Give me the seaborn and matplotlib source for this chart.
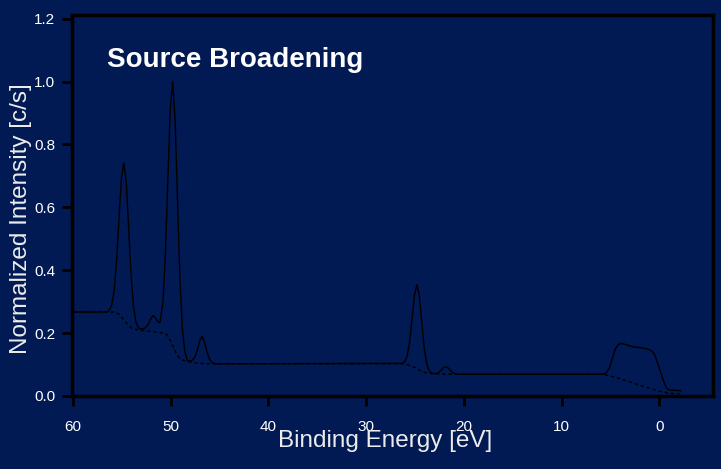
import pandas as pd
import matplotlib
matplotlib.use("Agg")
import matplotlib.pyplot as plt
from matplotlib.ticker import FormatStrFormatter
import seaborn as sns

# spectrum (solid line)
energy = [60.0, 56.5, 56.3, 56.05, 55.8, 55.55, 55.3, 55.05, 54.8, 54.55, 54.3,
          54.05, 53.8, 53.55, 53.3, 53.0, 52.6, 52.3, 52.05, 51.8, 51.55, 51.3,
          51.1, 50.8, 50.55, 50.3, 50.05, 49.8, 49.55, 49.3, 49.05, 48.8, 48.55,
          48.3, 48.05, 47.8, 47.55, 47.3, 47.05, 46.8, 46.55, 46.3, 46.05, 45.8,
          45.55, 45.3, 26.3, 26.05, 25.8, 25.55, 25.3, 25.05, 24.8, 24.55, 24.3,
          24.05, 23.8, 23.55, 23.3, 22.9, 22.6, 22.35, 22.1, 21.85, 21.6, 21.35,
          21.1, 20.85, 20.6, 5.7, 5.4, 5.1, 4.8, 4.5, 4.2, 3.95, 3.6, 3.2, 2.8,
          2.4, 2.0, 1.6, 1.2, 0.9, 0.6, 0.4, 0.0, -0.4, -0.75, -1.1, -1.6, -2.2]
intensity = [0.267, 0.267, 0.272, 0.288, 0.332, 0.424, 0.56, 0.69, 0.741, 0.679,
             0.531, 0.38, 0.281, 0.234, 0.216, 0.213, 0.216, 0.228, 0.245, 0.256,
             0.247, 0.236, 0.233, 0.296, 0.447, 0.68, 0.911, 1.0, 0.875, 0.616,
             0.366, 0.21, 0.14, 0.113, 0.111, 0.113, 0.122, 0.143, 0.174, 0.19,
             0.173, 0.142, 0.118, 0.107, 0.104, 0.102, 0.104, 0.109, 0.128, 0.173,
             0.247, 0.323, 0.354, 0.315, 0.231, 0.15, 0.101, 0.08, 0.073, 0.071,
             0.074, 0.081, 0.09, 0.093, 0.089, 0.08, 0.073, 0.07, 0.069, 0.069,
             0.075, 0.09, 0.12, 0.15, 0.163, 0.167, 0.165, 0.161, 0.157, 0.155,
             0.154, 0.152, 0.149, 0.145, 0.138, 0.125, 0.088, 0.05, 0.024, 0.018,
             0.018, 0.017]

# background (dashed line)
bg_energy = [60.0, 55.7, 55.3, 55.0, 54.6, 54.3, 54.0, 53.5, 52.5, 51.5, 50.8,
             50.4, 50.1, 49.8, 49.5, 49.2, 48.9, 48.5, 47.5, 46.5, 45.7, 26.2,
             25.8, 25.4, 25.0, 24.6, 24.2, 23.8, 23.3, 22.3, 21.4, 5.7, 4.0, 2.0,
             0.0, -1.2, -2.2]
bg_intensity = [0.267, 0.267, 0.26, 0.25, 0.235, 0.224, 0.215, 0.211, 0.207,
                0.204, 0.2, 0.195, 0.18, 0.16, 0.14, 0.124, 0.116, 0.111, 0.105,
                0.103, 0.102, 0.102, 0.1, 0.096, 0.09, 0.083, 0.077, 0.073, 0.071,
                0.07, 0.069, 0.069, 0.055, 0.034, 0.015, 0.008, 0.007]

x_ticks = [60, 50, 40, 30, 20, 10, 0]
y_ticks = [0.0, 0.2, 0.4, 0.6, 0.8, 1.0, 1.2]

navy = "#011a54"
sns.set_style("ticks", {"axes.facecolor": navy, "figure.facecolor": navy,
                        "axes.edgecolor": "black"})
plt.rcParams["font.family"] = ["Liberation Sans", "DejaVu Sans"]

spec = pd.DataFrame({"energy": energy, "intensity": intensity})
bg = pd.DataFrame({"energy": bg_energy, "intensity": bg_intensity})

fig = plt.figure(figsize=(7.21, 4.69), dpi=100)
ax = fig.add_axes([0.0999, 0.1557, 0.8891, 0.8113])

sns.lineplot(data=spec, x="energy", y="intensity", estimator=None, sort=False,
             color="black", linewidth=1.0, ax=ax)
sns.lineplot(data=bg, x="energy", y="intensity", estimator=None, sort=False,
             color="black", linewidth=1.0, linestyle=(0, (2.5, 2)), ax=ax)

ax.set_xlim(60.1, -5.5)
ax.set_ylim(0, 1.21)
ax.set_xticks(x_ticks)
ax.set_yticks(y_ticks)
ax.yaxis.set_major_formatter(FormatStrFormatter("%.1f"))

for s in ax.spines.values():
    s.set_linewidth(2.5)
    s.set_color("black")
ax.tick_params(direction="out", length=7, width=2, color="black",
               labelcolor="white", labelsize=11, pad=5)
ax.tick_params(axis="x", pad=10)

ax.set_xlabel("Binding Energy [eV]", fontsize=17.5, color="#ececec", va="center")
ax.set_ylabel("Normalized Intensity [c/s]", fontsize=17.5, color="#ececec", va="center")
ax.xaxis.set_label_coords(0.489, -0.118)
ax.yaxis.set_label_coords(-0.08, 0.465)

ax.text(0.055, 0.864, "Source Broadening", transform=ax.transAxes,
        fontsize=20, fontweight="bold", color="white", ha="left", va="baseline")

fig.savefig("out.png", dpi=100, facecolor=navy)
